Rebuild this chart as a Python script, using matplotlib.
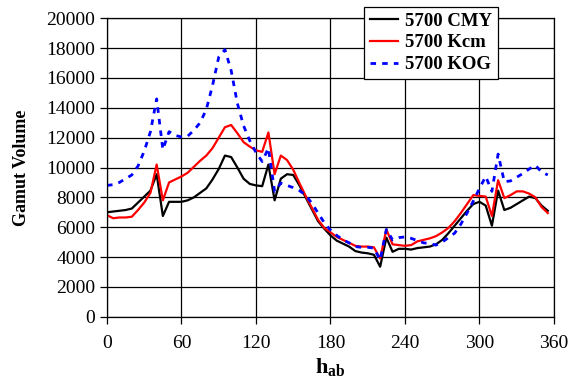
import matplotlib
matplotlib.use('Agg')
import matplotlib.pyplot as plt
import numpy as np

# hue angles (deg), one sample every 5 degrees
hue = np.arange(0, 360, 5)

cmy = [7000, 7050, 7100, 7150, 7250, 7650, 8050, 8450, 9550, 6750,
       7700, 7700, 7700, 7800, 8000, 8300, 8600, 9200, 9900, 10800,
       10700, 10000, 9250, 8900, 8800, 8750, 10200, 7800, 9250, 9550,
       9500, 8800, 8000, 7200, 6400, 5900, 5450, 5100, 4900, 4700,
       4400, 4300, 4250, 4150, 3350, 5300, 4350, 4550, 4550, 4500,
       4600, 4650, 4700, 4850, 5150, 5600, 6100, 6600, 7100, 7550,
       7700, 7450, 6100, 8450, 7150, 7300, 7550, 7800, 8050, 7950,
       7450, 7100]

kcm = [6800, 6600, 6650, 6650, 6700, 7150, 7650, 8300, 10200, 7800,
       9000, 9200, 9400, 9650, 10050, 10450, 10800, 11300, 12000, 12700,
       12850, 12300, 11700, 11400, 11150, 11050, 12350, 9550, 10800, 10500,
       9850, 8950, 8100, 7300, 6500, 5950, 5650, 5350, 5150, 4950,
       4750, 4700, 4700, 4650, 3900, 5850, 4850, 4800, 4750, 4800,
       5050, 5150, 5250, 5400, 5650, 5950, 6400, 6950, 7550, 8150,
       8100, 8050, 6750, 9150, 7950, 8150, 8400, 8400, 8250, 8000,
       7350, 6950]

kog = [8800, 8850, 9000, 9250, 9500, 10100, 11100, 12400, 14600, 11200,
       12400, 12150, 12050, 12100, 12500, 13000, 13900, 15500, 17400, 17900,
       16500, 14300, 12800, 11800, 11000, 10400, 11300, 8400, 8950, 8800,
       8650, 8450, 8150, 7600, 6950, 6300, 5800, 5450, 5150, 4950,
       4700, 4650, 4650, 4600, 3800, 5850, 5150, 5300, 5350, 5250,
       5100, 4950, 4900, 4800, 5000, 5300, 5600, 6200, 6950, 7750,
       8600, 9400, 8400, 10900, 9050, 9100, 9350, 9600, 9900, 10150,
       9700, 9500]

plt.rcParams['font.family'] = ['Liberation Serif', 'DejaVu Serif']
plt.rcParams['mathtext.fontset'] = 'custom'
plt.rcParams['mathtext.rm'] = 'Liberation Serif'
plt.rcParams['mathtext.bf'] = 'Liberation Serif:bold'

fig = plt.figure(figsize=(5.7, 3.83), dpi=100)
ax = fig.add_axes([0.1877, 0.1731, 0.7842, 0.7791])

ax.plot(hue, cmy, color='black', lw=1.6, label='5700 CMY')
ax.plot(hue, kcm, color='red', lw=1.6, label='5700 Kcm')
ax.plot(hue, kog, color='blue', lw=2, ls=(0, (2, 2.2)), label='5700 KOG')

ax.set_xlim(0, 360)
ax.set_ylim(0, 20000)
ax.set_xticks(range(0, 361, 60))
ax.set_yticks(range(0, 20001, 2000))
ax.grid(True, color='black', lw=0.9)
ax.set_axisbelow(True)
ax.tick_params(direction='out', length=5, width=0.9, labelsize=14, colors='black')
ax.tick_params(axis='x', pad=8)
for s in ax.spines.values():
    s.set_linewidth(0.9)

ax.set_ylabel('Gamut Volume', fontsize=13, fontweight='bold', labelpad=12)
ax.set_xlabel(r'$\mathbf{h_{ab}}$', fontsize=16, labelpad=3)

leg = ax.legend(loc='upper right', bbox_to_anchor=(0.874, 0.982),
                bbox_transform=fig.transFigure, fancybox=False,
                edgecolor='black', framealpha=1, handlelength=1.5,
                handletextpad=0.4, borderpad=0.3, labelspacing=0.25,
                borderaxespad=0, prop={'size': 13.5, 'weight': 'bold'})
leg.get_frame().set_linewidth(0.9)

fig.savefig('out.png', dpi=100)
